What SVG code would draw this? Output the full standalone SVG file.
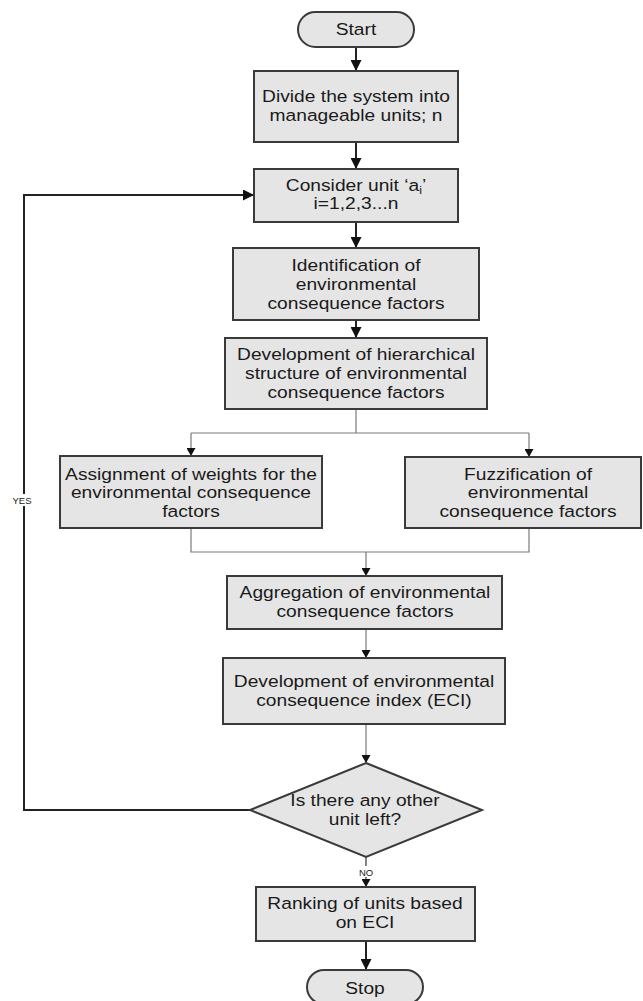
<svg xmlns="http://www.w3.org/2000/svg" width="643" height="1001" viewBox="0 0 643 1001">
<style>
.box{fill:#e5e5e5;stroke:#3a3a3a;stroke-width:2}
.t{font-family:"Liberation Sans",Arial,sans-serif;font-size:17px;fill:#1a1a1a;text-anchor:middle}
.lbl{font-family:"Liberation Sans",Arial,sans-serif;font-size:9.5px;fill:#1a1a1a;text-anchor:middle}
.ck{fill:none;stroke:#222;stroke-width:2}
.cg{fill:none;stroke:#7a7a7a;stroke-width:1.2}
</style>
<defs>
<marker id="ab" markerUnits="userSpaceOnUse" markerWidth="12" markerHeight="11" refX="11" refY="5.5" orient="auto">
<path d="M0,0 L11,5.5 L0,11 z" fill="#111"/>
</marker>
<marker id="as" markerUnits="userSpaceOnUse" markerWidth="10" markerHeight="9" refX="8" refY="4.5" orient="auto">
<path d="M0,0 L8,4.5 L0,9 z" fill="#111"/>
</marker>
</defs>
<rect width="643" height="1001" fill="#fff"/>

<g id="connectors">
<line class="ck" x1="356" y1="47" x2="356" y2="71" marker-end="url(#ab)"/>
<line class="ck" x1="356" y1="142" x2="356" y2="169" marker-end="url(#ab)"/>
<line class="ck" x1="356" y1="222" x2="356" y2="248" marker-end="url(#ab)"/>
<line class="ck" x1="356" y1="320" x2="356" y2="338" marker-end="url(#ab)"/>
<polyline class="cg" points="356,409 356,433"/>
<polyline class="cg" points="191,433 529,433"/>
<line class="cg" x1="191" y1="433" x2="191" y2="456" marker-end="url(#as)"/>
<line class="cg" x1="529" y1="433" x2="529" y2="457" marker-end="url(#as)"/>
<polyline class="cg" points="191,528 191,552 529,552 529,528"/>
<line class="cg" x1="366" y1="552" x2="366" y2="576" marker-end="url(#as)"/>
<line class="cg" x1="366" y1="629" x2="366" y2="658" marker-end="url(#as)"/>
<line class="cg" x1="366" y1="724" x2="366" y2="763" marker-end="url(#as)"/>
<polyline class="ck" points="250,810 24,810 24,195 254,195" marker-end="url(#ab)"/>
<line class="cg" x1="366" y1="857" x2="366" y2="887" marker-end="url(#as)" style="stroke:#333"/>
<line class="ck" x1="366" y1="941" x2="366" y2="970" marker-end="url(#ab)"/>
<rect x="12" y="494" width="21" height="12" fill="#fff"/>
<text class="lbl" x="22" y="504">YES</text>
<rect x="356" y="866" width="20" height="11" fill="#fff"/>
<text class="lbl" x="366" y="876">NO</text>
</g>

<g id="start">
<rect class="box" x="298" y="12" width="116" height="35" rx="17.5"/>
<g transform="translate(356 0) scale(1.13 1)"><text class="t" x="0" y="35">Start</text></g>
</g>

<g id="divide">
<rect class="box" x="254" y="71" width="204" height="71"/>
<g transform="translate(356 0) scale(1.13 1)"><text class="t" x="0" y="102">Divide the system into</text><text class="t" x="0" y="121">manageable units; n</text></g>
</g>

<g id="consider">
<rect class="box" x="254" y="169" width="204" height="53"/>
<g transform="translate(356 0) scale(1.13 1)"><text class="t" x="0" y="191">Consider unit ‘a<tspan font-size="11px" dy="3">i</tspan><tspan dy="-3">’</tspan></text><text class="t" x="0" y="209">i=1,2,3...n</text></g>
</g>

<g id="identification">
<rect class="box" x="233" y="248" width="246" height="72"/>
<g transform="translate(356 0) scale(1.13 1)"><text class="t" x="0" y="271">Identification of</text><text class="t" x="0" y="290">environmental</text><text class="t" x="0" y="309">consequence factors</text></g>
</g>

<g id="hierarchy">
<rect class="box" x="225" y="338" width="262" height="71"/>
<g transform="translate(356 0) scale(1.13 1)"><text class="t" x="0" y="360">Development of hierarchical</text><text class="t" x="0" y="379">structure of environmental</text><text class="t" x="0" y="398">consequence factors</text></g>
</g>

<g id="weights">
<rect class="box" x="60" y="456" width="262" height="72"/>
<g transform="translate(191 0) scale(1.13 1)"><text class="t" x="0" y="480">Assignment of weights for the</text><text class="t" x="0" y="498">environmental consequence</text><text class="t" x="0" y="517">factors</text></g>
</g>

<g id="fuzzification">
<rect class="box" x="405" y="457" width="236" height="71"/>
<g transform="translate(528 0) scale(1.13 1)"><text class="t" x="0" y="480">Fuzzification of</text><text class="t" x="0" y="498">environmental</text><text class="t" x="0" y="517">consequence factors</text></g>
</g>

<g id="aggregation">
<rect class="box" x="227" y="576" width="275" height="53"/>
<g transform="translate(365 0) scale(1.13 1)"><text class="t" x="0" y="598">Aggregation of environmental</text><text class="t" x="0" y="617">consequence factors</text></g>
</g>

<g id="eci">
<rect class="box" x="223" y="658" width="282" height="66"/>
<g transform="translate(364 0) scale(1.13 1)"><text class="t" x="0" y="687">Development of environmental</text><text class="t" x="0" y="706">consequence index (ECI)</text></g>
</g>

<g id="decision">
<polygon class="box" points="366,763 482,810 366,857 250,810"/>
<g transform="translate(365 0) scale(1.13 1)"><text class="t" x="0" y="806">Is there any other</text><text class="t" x="0" y="825">unit left?</text></g>
</g>

<g id="ranking">
<rect class="box" x="256" y="887" width="219" height="54"/>
<g transform="translate(365 0) scale(1.13 1)"><text class="t" x="0" y="909">Ranking of units based</text><text class="t" x="0" y="928">on ECI</text></g>
</g>

<g id="stop">
<rect class="box" x="307" y="970" width="116" height="34" rx="17"/>
<g transform="translate(365 0) scale(1.13 1)"><text class="t" x="0" y="994">Stop</text></g>
</g>
</svg>
